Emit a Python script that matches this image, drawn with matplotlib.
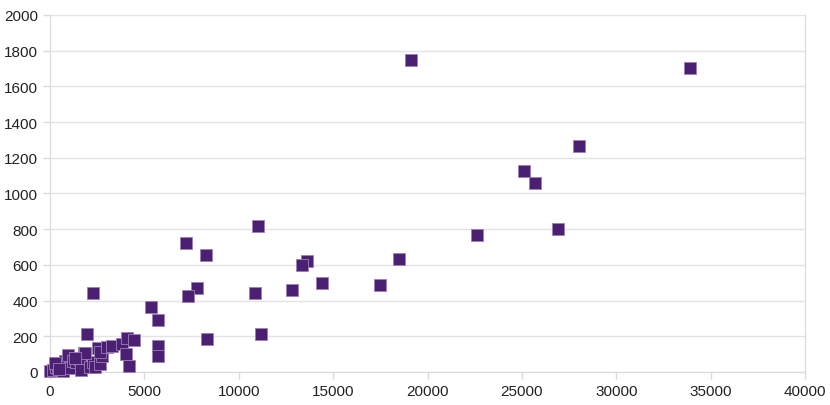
import matplotlib
matplotlib.use("Agg")
import matplotlib.pyplot as plt

plt.rcParams['font.family'] = ['Liberation Sans', 'DejaVu Sans']

# scatter values
x_vals = [19100, 33900, 28000, 25100, 25700, 26900, 22600, 18500, 17500, 14400,
          13600, 13350, 12800, 11000, 10850, 11200, 8260, 8300, 7200, 7800,
          7300, 5350, 5720, 5720, 5720, 2280,
          0, 150, 300, 450, 600, 700, 800, 950, 1050, 1200,
          1400, 1600, 1650, 1800, 1980, 2100, 2300, 2380, 2560, 2650,
          2740, 2650, 3000, 3270, 3830, 4060, 4450, 4010, 4200, 1850,
          250, 500, 1300]
y_vals = [1750, 1705, 1265, 1125, 1060, 800, 765, 633, 490, 500,
          622, 600, 459, 818, 443, 215, 655, 185, 723, 472,
          426, 364, 291, 146, 90, 443,
          5, 10, 30, 20, 45, 5, 60, 95, 25, 60,
          55, 75, 10, 105, 211, 30, 55, 30, 135, 45,
          90, 110, 140, 145, 157, 192, 180, 100, 32, 105,
          50, 15, 80]

fig = plt.figure(figsize=(8.3, 4.06), dpi=100)
ax = fig.add_axes([0.0602, 0.0813, 0.9098, 0.8793])

ax.scatter(x_vals, y_vals, marker='s', s=75, color='#4B2072',
           edgecolors='#9c80b8', linewidths=0.6, zorder=3, clip_on=False)

ax.set_xlim(0, 40000)
ax.set_ylim(0, 2000)
ax.set_xticks(range(0, 40001, 5000))
ax.set_yticks(range(0, 2001, 200))
ax.grid(axis='y', color='#e3e3e3', linewidth=1)
ax.set_axisbelow(True)
for side in ['left', 'right', 'bottom', 'top']:
    ax.spines[side].set_color('#d9d9d9')
ax.spines['top'].set_visible(False)
ax.tick_params(axis='both', colors='#d9d9d9', labelcolor='#222222',
               labelsize=11, length=5, width=1)

fig.savefig("out.png", dpi=100)
